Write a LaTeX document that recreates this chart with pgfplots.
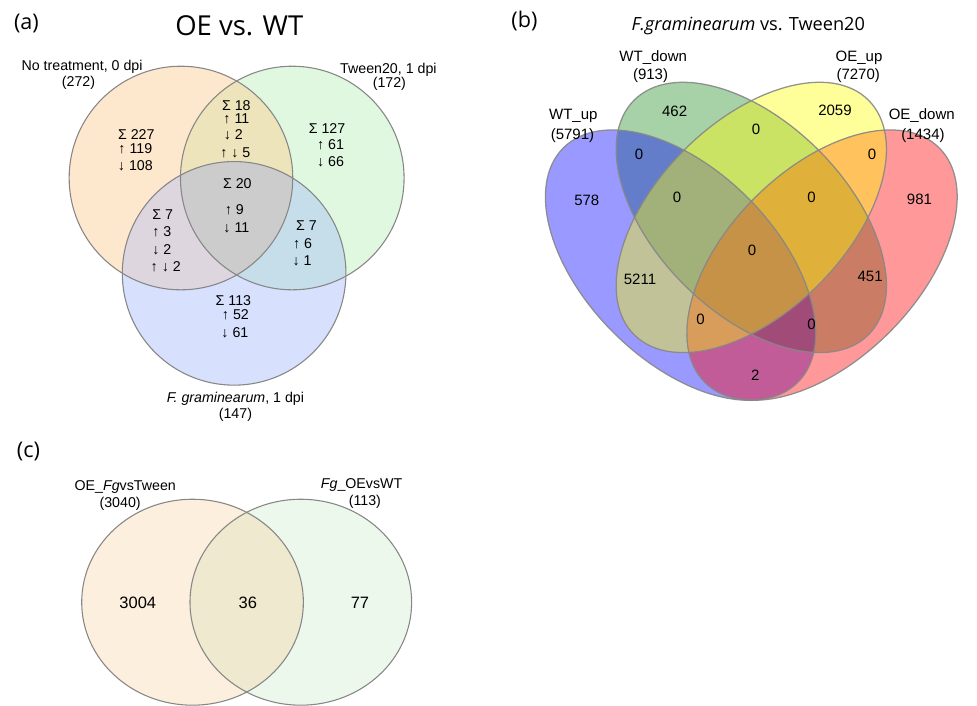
\documentclass[border=0pt]{standalone}
\usepackage{pgfplots}
\pgfplotsset{compat=1.18}
\usepackage{fontspec}
\setmainfont{Liberation Sans}
\newfontfamily\osans{Open Sans}
\definecolor{ca1}{RGB}{254,232,205}
\definecolor{ca2}{RGB}{224,247,224}
\definecolor{ca3}{RGB}{215,224,252}
\definecolor{ca12}{RGB}{237,228,188}
\definecolor{ca13}{RGB}{221,214,222}
\definecolor{ca23}{RGB}{198,222,234}
\definecolor{ca123}{RGB}{203,204,203}
\definecolor{cc1}{RGB}{253,239,221}
\definecolor{cc2}{RGB}{236,248,236}
\definecolor{cc12}{RGB}{238,233,207}
\definecolor{vblue}{RGB}{0,0,255}
\definecolor{vgreen}{RGB}{34,139,34}
\definecolor{vred}{RGB}{255,0,0}
\definecolor{vyellow}{RGB}{255,255,0}
\definecolor{edge}{RGB}{135,135,135}
\tikzset{
  la/.style={font=\fontsize{14.5}{16}\selectfont, inner sep=0pt, text height=10.4pt, text depth=0pt},
  lb/.style={font=\fontsize{15.3}{17}\selectfont, inner sep=0pt, text height=10.95pt, text depth=0pt},
  lc/.style={font=\fontsize{14.5}{16}\selectfont, inner sep=0pt, text height=10.4pt, text depth=0pt},
  lcn/.style={font=\fontsize{16.8}{18}\selectfont, inner sep=0pt, text height=12.0pt, text depth=0pt},
}
\newcommand{\A}[3]{\node[la] at (axis cs:#1,#2) {#3};}
\newcommand{\B}[3]{\node[lb] at (axis cs:#1,#2) {#3};}
\begin{document}
\begin{tikzpicture}
\begin{axis}[x=1pt, y=1pt, y dir=reverse, xmin=0, xmax=977, ymin=0, ymax=719,
  hide axis, clip=false]
\path (axis cs:0,0) rectangle (axis cs:977,719);
% ---------------- panel (a) ----------------
\fill[ca1] (axis cs:184.5,181.5) circle[radius=114pt];
\fill[ca2] (axis cs:298,181.5) circle[radius=114pt];
\fill[ca3] (axis cs:238.7,278.7) circle[radius=114pt];
\begin{scope}
\clip (axis cs:184.5,181.5) circle[radius=114pt];
\fill[ca12] (axis cs:298,181.5) circle[radius=114pt];
\fill[ca13] (axis cs:238.7,278.7) circle[radius=114pt];
\end{scope}
\begin{scope}
\clip (axis cs:298,181.5) circle[radius=114pt];
\fill[ca23] (axis cs:238.7,278.7) circle[radius=114pt];
\clip (axis cs:184.5,181.5) circle[radius=114pt];
\fill[ca123] (axis cs:238.7,278.7) circle[radius=114pt];
\end{scope}
\draw[edge, line width=1.1pt] (axis cs:184.5,181.5) circle[radius=114pt];
\draw[edge, line width=1.1pt] (axis cs:298,181.5) circle[radius=114pt];
\draw[edge, line width=1.1pt] (axis cs:238.7,278.7) circle[radius=114pt];
\node[anchor=base, inner sep=0pt, font=\osans\fontsize{22}{24}\selectfont] at (axis cs:27,30) {(a)};
\node[anchor=base, inner sep=0pt, font=\osans\fontsize{28}{30}\selectfont] at (axis cs:244,36) {OE vs. WT};
\A{83.7}{66.5}{No treatment, 0 dpi}
\A{80}{83.5}{(272)}
\A{396}{69.7}{Tween20, 1 dpi}
\A{397}{84}{(172)}
\A{139}{136.7}{Σ 227}
\A{138}{151.7}{↑ 119}
\A{138}{168.5}{↓ 108}
\A{241}{107}{Σ 18}
\A{241}{120.3}{↑ 11}
\A{238}{137.5}{↓ 2}
\A{240}{155.3}{↑ ↓ 5}
\A{333.5}{131.2}{Σ 127}
\A{337}{147}{↑ 61}
\A{337}{164.7}{↓ 66}
\A{242}{187}{Σ 20}
\A{239}{214}{↑ 9}
\A{241}{232}{↓ 11}
\A{166}{218.7}{Σ 7}
\A{165}{236.3}{↑ 3}
\A{165}{253.8}{↓ 2}
\A{169}{272}{↑ ↓ 2}
\A{312.5}{230.3}{Σ 7}
\A{308.5}{247.8}{↑ 6}
\A{308}{265.3}{↓ 1}
\A{238}{306.5}{Σ 113}
\A{240}{321}{↑ 52}
\A{239.5}{338.7}{↓ 61}
\A{240}{405.5}{\textit{F. graminearum}, 1 dpi}
\A{240}{422}{(147)}
% ---------------- panel (b) ----------------
\fill[vgreen, fill opacity=0.4] (axis cs:766,221.7) ellipse[x radius=169pt, y radius=97pt, rotate=-45];
\fill[vblue, fill opacity=0.4] (axis cs:693.9,270.3) ellipse[x radius=169pt, y radius=97pt, rotate=-45];
\fill[vred, fill opacity=0.4] (axis cs:838.1,270.3) ellipse[x radius=169pt, y radius=97pt, rotate=45];
\fill[vyellow, fill opacity=0.4] (axis cs:766,221.7) ellipse[x radius=169pt, y radius=97pt, rotate=45];
\draw[edge, line width=1.3pt, draw opacity=0.9] (axis cs:766,221.7) ellipse[x radius=169pt, y radius=97pt, rotate=-45];
\draw[edge, line width=1.3pt, draw opacity=0.9] (axis cs:693.9,270.3) ellipse[x radius=169pt, y radius=97pt, rotate=-45];
\draw[edge, line width=1.3pt, draw opacity=0.9] (axis cs:838.1,270.3) ellipse[x radius=169pt, y radius=97pt, rotate=45];
\draw[edge, line width=1.3pt, draw opacity=0.9] (axis cs:766,221.7) ellipse[x radius=169pt, y radius=97pt, rotate=45];
\node[anchor=base, inner sep=0pt, font=\osans\fontsize{22}{24}\selectfont] at (axis cs:534.7,28) {(b)};
\node[anchor=base, inner sep=0pt, font=\osans\fontsize{18.5}{20}\selectfont] at (axis cs:763,30.7) {\textit{F.graminearum} vs. Tween20};
\B{666}{57}{WT\_down}
\B{663.3}{76}{(913)}
\B{875.8}{57}{OE\_up}
\B{875}{76}{(7270)}
\B{584.5}{116}{WT\_up}
\B{583.7}{137}{(5791)}
\B{939.8}{116}{OE\_down}
\B{941}{137}{(1434)}
\B{687.8}{113.8}{462}
\B{851.3}{112.5}{2059}
\B{770.8}{131.7}{0}
\B{651.5}{157.2}{0}
\B{889.2}{157.2}{0}
\B{598.3}{204}{578}
\B{690.2}{200.5}{0}
\B{827.5}{200.5}{0}
\B{937.5}{203.5}{981}
\B{766.8}{255.2}{0}
\B{652.5}{284.2}{5211}
\B{887.2}{281.7}{451}
\B{714.2}{325}{0}
\B{827.5}{330.8}{0}
\B{770.2}{382.5}{2}
% ---------------- panel (c) ----------------
\fill[cc1] (axis cs:196.3,614) ellipse[x radius=113pt, y radius=105pt];
\fill[cc2] (axis cs:306.7,614) ellipse[x radius=113pt, y radius=105pt];
\begin{scope}
\clip (axis cs:196.3,614) ellipse[x radius=113pt, y radius=105pt];
\fill[cc12] (axis cs:306.7,614) ellipse[x radius=113pt, y radius=105pt];
\end{scope}
\draw[edge, line width=1.1pt] (axis cs:196.3,614) ellipse[x radius=113pt, y radius=105pt];
\draw[edge, line width=1.1pt] (axis cs:306.7,614) ellipse[x radius=113pt, y radius=105pt];
\node[anchor=base, inner sep=0pt, font=\osans\fontsize{22}{24}\selectfont] at (axis cs:29,466.4) {(c)};
\node[lc] at (axis cs:127.7,495) {OE\_\textit{Fg}vsTween};
\node[lc] at (axis cs:122.5,512) {(3040)};
\node[lc] at (axis cs:368.7,493) {\textit{Fg}\_OEvsWT};
\node[lc] at (axis cs:372,510.5) {(113)};
\node[lcn] at (axis cs:140.5,614) {3004};
\node[lcn] at (axis cs:252.7,614) {36};
\node[lcn] at (axis cs:367,614) {77};
\end{axis}
\end{tikzpicture}
\end{document}
